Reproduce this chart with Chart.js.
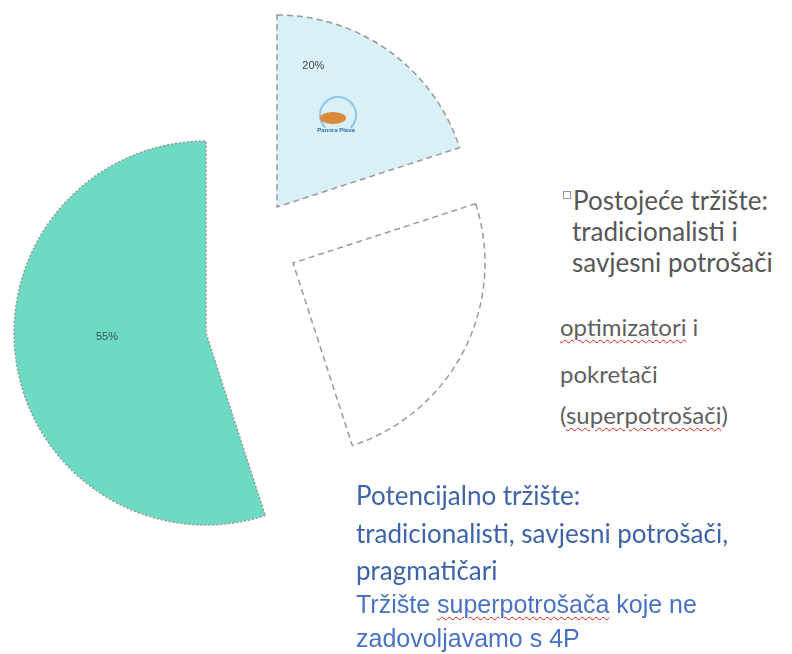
<!DOCTYPE html>
<html>
<head>
<meta charset="utf-8">
<script src="https://cdn.jsdelivr.net/npm/chart.js@4.4.0/dist/chart.umd.min.js"></script>
<style>
  body { margin: 0; background: #fff; width: 792px; height: 654px; overflow: hidden; position: relative; font-family: Lato, "Open Sans", sans-serif; }
  #pie { position: absolute; left: 0; top: 0; }
  .note { position: absolute; white-space: nowrap; }
  .grey { color: #575757; font-size: 26px; line-height: 31px; }
  .grey2 { color: #5f5f5f; font-size: 24px; }
  .blue { color: #3d64a8; font-size: 26px; }
  .blue2 { color: #4a72c4; font-size: 25px; font-family: "Liberation Sans", Arial, sans-serif; }
  .typo { text-decoration: underline wavy #d22; text-decoration-thickness: 1px; text-underline-offset: 3px; }
  .box { display: inline-block; width: 6px; height: 6px; border: 1px solid #999; vertical-align: top; margin: 6px 2px 0 -9px; }
  #logo { position: absolute; left: 310px; top: 94px; width: 52px; height: 52px; }
</style>
</head>
<body>
<canvas id="pie" width="520" height="560"></canvas>

<div id="logo">
  <div style="position:absolute;left:9px;top:2px;width:34px;height:34px;border-radius:50%;border:2px solid #8ec5e8;border-bottom-color:transparent;"></div>
  <div style="position:absolute;left:10px;top:18px;width:26px;height:12px;border-radius:50%;background:#d98a3a;"></div>
  <div style="position:absolute;left:0;top:33px;width:52px;text-align:center;font:bold 6px 'Liberation Sans',sans-serif;color:#2f6db5;">Panora Plava</div>
</div>

<div class="note grey" style="left:572px; top:185px;"><span class="box"></span>Postojeće tržište:<br>tradicionalisti i<br>savjesni potrošači</div>
<div class="note grey2" style="left:560px; top:312px;"><span class="typo">optimizatori</span> i</div>
<div class="note grey2" style="left:560px; top:359px;">pokretači</div>
<div class="note grey2" style="left:560px; top:400px;">(<span class="typo">superpotrošači</span>)</div>

<div class="note blue" style="left:356px; top:479px;">Potencijalno tržište:</div>
<div class="note blue" style="left:356px; top:517px;">tradicionalisti, savjesni potrošači,</div>
<div class="note blue" style="left:356px; top:554px;">pragmatičari</div>
<div class="note blue2" style="left:356px; top:590px;">Tržište <span class="typo">superpotrošača</span> koje ne</div>
<div class="note blue2" style="left:356px; top:624px;">zadovoljavamo s 4P</div>

<script>
// slices, clockwise from 12 o'clock
const segments = ['Postojeće tržište', 'Ostalo', 'Potencijalno tržište'];
const shares = [20, 25, 55];
const shareLabels = ['20%', '', '55%'];

// exploded layout: each slice is pulled away from the centre by hand
const shiftX = [17, 33, -54];
const shiftY = [-73, -17, 53];
const fills = ['#d8f0f6', '#ffffff', '#6ddac4'];
const dashes = [[6, 4], [6, 4], [2, 2]];

const explode = {
  id: 'explode',
  afterDatasetUpdate(chart, args) {
    args.meta.data.forEach((arc, i) => {
      arc.x += shiftX[i];
      arc.y += shiftY[i];
    });
  }
};

// where the % text sits inside each slice: [fraction of the angle, fraction of the radius]
const labelAt = [[0.2, 0.76], [0.5, 0.6], [0.534, 0.516]];

const sliceLabels = {
  id: 'sliceLabels',
  afterDatasetsDraw(chart) {
    const ctx = chart.ctx;
    chart.getDatasetMeta(0).data.forEach((arc, i) => {
      if (!shareLabels[i]) return;
      const a = arc.startAngle + labelAt[i][0] * (arc.endAngle - arc.startAngle);
      const r = arc.outerRadius * labelAt[i][1];
      ctx.save();
      ctx.font = '11px "Liberation Sans", sans-serif';
      ctx.fillStyle = i === 2 ? '#35594f' : '#444';
      ctx.textAlign = 'center';
      ctx.textBaseline = 'middle';
      ctx.fillText(shareLabels[i], arc.x + Math.cos(a) * r, arc.y + Math.sin(a) * r);
      ctx.restore();
    });
  }
};

new Chart(document.getElementById('pie'), {
  type: 'pie',
  data: {
    labels: segments,
    datasets: [{
      data: shares,
      backgroundColor: fills,
      borderColor: '#999',
      borderWidth: 1.5,
      borderDash: ctx => dashes[ctx.dataIndex],
      borderJoinStyle: 'miter'
    }]
  },
  options: {
    responsive: false,
    animation: false,
    events: [],
    radius: 192,
    layout: { padding: 0 },
    plugins: { legend: { display: false }, tooltip: { enabled: false } }
  },
  plugins: [explode, sliceLabels]
});
</script>
</body>
</html>
